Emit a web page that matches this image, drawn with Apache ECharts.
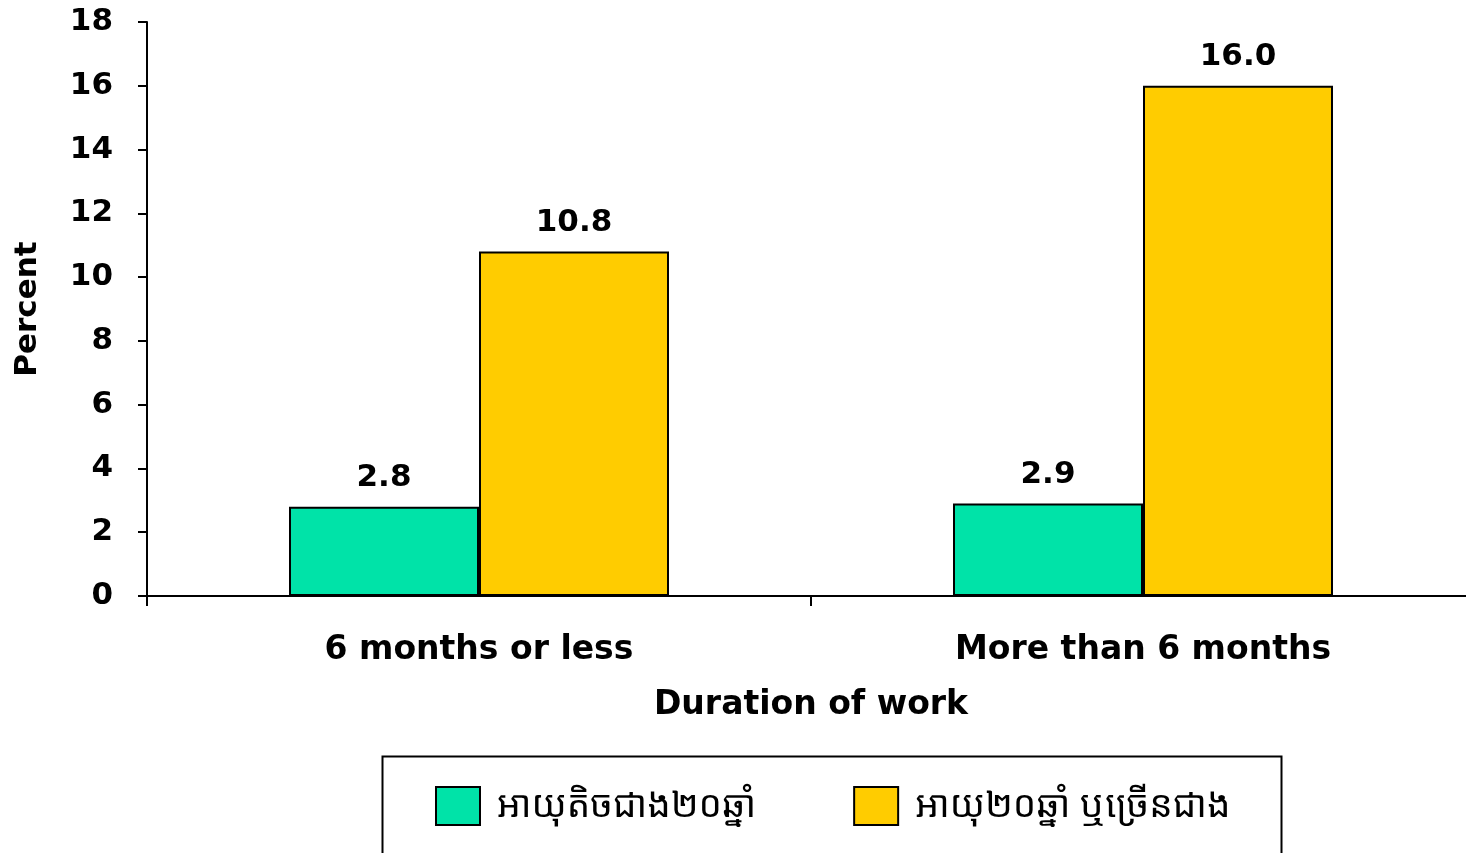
<!DOCTYPE html>
<html>
<head>
<meta charset="utf-8">
<style>
  html, body { margin: 0; padding: 0; background: #ffffff; }
  #chart { width: 1466px; height: 853px; }
</style>
<script src="https://cdn.jsdelivr.net/npm/echarts@6/dist/echarts.min.js"></script>
</head>
<body>
<div id="chart"></div>
<script>
// Work duration categories and percentage by age group
const categories = ['6 months or less', 'More than 6 months'];
const seriesNames = ['អាយុតិចជាង២០ឆ្នាំ', 'អាយុ២០ឆ្នាំ ឬច្រើនជាង'];
const under20 = [2.8, 2.9];
const age20plus = [10.8, 16.0];
const yTicks = { min: 0, max: 18, interval: 2 };

const FONT = "'DejaVu Sans', Verdana, sans-serif";
const KHMER = "'Khmer OS', 'Noto Sans Khmer', 'Khmer OS System', 'DejaVu Sans', sans-serif";

const chart = echarts.init(document.getElementById('chart'), null, { renderer: 'canvas' });

const labelStyle = {
  show: true,
  position: 'top',
  distance: 13,
  color: '#000',
  fontFamily: FONT,
  fontWeight: 'bold',
  fontSize: 31,
  formatter: p => p.value.toFixed(1)
};

chart.setOption({
  backgroundColor: '#ffffff',
  animation: false,
  grid: { left: 147, right: -9, top: 22, bottom: 257, containLabel: false, outerBoundsMode: 'none' },
  legend: {
    show: true,
    top: 786,
    left: 435,
    padding: 0,
    itemWidth: 44,
    itemHeight: 38,
    itemGap: 97,
    icon: 'rect',
    textStyle: { fontFamily: KHMER, fontSize: 37, color: '#000', padding: [0, 0, 0, 12] },
    data: seriesNames
  },
  xAxis: {
    type: 'category',
    data: categories,
    name: 'Duration of work',
    nameLocation: 'middle',
    nameGap: 93,
    nameTextStyle: { fontFamily: FONT, fontWeight: 'bold', fontSize: 33, color: '#000' },
    axisLine: { lineStyle: { color: '#000', width: 2 } },
    axisTick: { show: true, length: 10, lineStyle: { color: '#000', width: 2 } },
    axisLabel: { fontFamily: FONT, fontWeight: 'bold', fontSize: 33, color: '#000', margin: 38 }
  },
  yAxis: {
    type: 'value',
    min: yTicks.min,
    max: yTicks.max,
    interval: yTicks.interval,
    name: 'Percent',
    nameLocation: 'middle',
    nameRotate: 90,
    nameGap: 104,
    nameTextStyle: { fontFamily: FONT, fontWeight: 'bold', fontSize: 31, color: '#000' },
    splitLine: { show: false },
    axisLine: { show: true, lineStyle: { color: '#000', width: 2 } },
    axisTick: { show: true, length: 9, lineStyle: { color: '#000', width: 2 } },
    axisLabel: { fontFamily: FONT, fontWeight: 'bold', fontSize: 31, color: '#000', margin: 34 }
  },
  series: [
    {
      name: seriesNames[0],
      type: 'bar',
      data: under20,
      barWidth: 190,
      barGap: '0%',
      itemStyle: { color: '#00E3A8', borderColor: '#000', borderWidth: 2 },
      label: labelStyle
    },
    {
      name: seriesNames[1],
      type: 'bar',
      data: age20plus,
      barWidth: 190,
      barGap: '0%',
      itemStyle: { color: '#FFCC00', borderColor: '#000', borderWidth: 2 },
      label: labelStyle
    }
  ],
  graphic: [
    {
      type: 'rect',
      left: 380,
      top: 754,
      shape: { width: 899, height: 110 },
      style: { fill: 'none', stroke: '#000', lineWidth: 2 },
      z: 10
    }
  ]
});
</script>
</body>
</html>
